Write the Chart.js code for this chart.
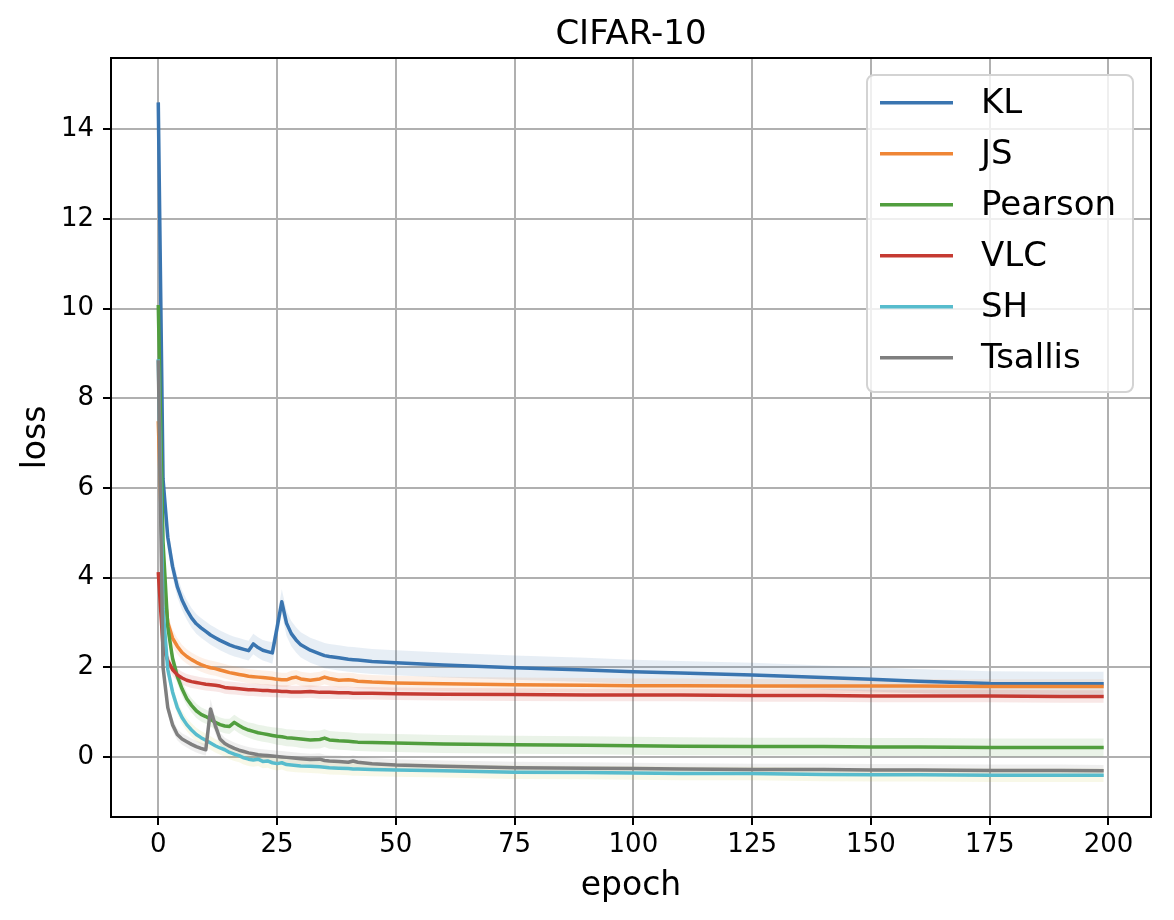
<!DOCTYPE html>
<html>
<head>
<meta charset="utf-8">
<script src="https://cdn.jsdelivr.net/npm/chart.js@4.4.1/dist/chart.umd.min.js"></script>
<style>
html,body{margin:0;padding:0;background:#fff;}
canvas{display:block;}
</style>
</head>
<body>
<canvas id="c" width="1174" height="920" style="width:1174px;height:920px"></canvas>
<script>
const epochs = [0,1,2,3,4,5,6,7,8,9,10,11,12,13,14,15,16,17,18,19,20,21,22,23,24,25,26,27,28,29,30,32,34,35,36,38,40,41,42,45,50,60,75,90,100,110,125,140,150,160,175,190,199];

const seriesNames = ["KL","JS","Pearson","VLC","SH","Tsallis"];

const klLoss = [14.6,6.2,4.9,4.25,3.8,3.5,3.28,3.1,2.97,2.88,2.8,2.72,2.66,2.6,2.55,2.5,2.46,2.43,2.4,2.37,2.52,2.44,2.38,2.35,2.32,2.88,3.46,2.98,2.75,2.61,2.5,2.38,2.3,2.26,2.24,2.21,2.18,2.17,2.16,2.13,2.1,2.05,1.99,1.94,1.9,1.87,1.83,1.77,1.73,1.69,1.64,1.63,1.63];
const jsLoss = [7.49,4.0,3.0,2.65,2.47,2.33,2.24,2.17,2.11,2.06,2.02,1.99,1.97,1.94,1.91,1.88,1.86,1.84,1.82,1.8,1.79,1.78,1.77,1.76,1.75,1.73,1.72,1.72,1.76,1.78,1.74,1.71,1.74,1.78,1.75,1.71,1.72,1.71,1.69,1.67,1.65,1.63,1.61,1.6,1.59,1.59,1.58,1.58,1.58,1.58,1.57,1.57,1.57];
const pearsonLoss = [10.08,4.8,2.9,2.2,1.8,1.52,1.3,1.15,1.03,0.95,0.9,0.84,0.77,0.72,0.69,0.68,0.77,0.7,0.64,0.6,0.57,0.54,0.52,0.5,0.48,0.46,0.45,0.43,0.42,0.41,0.4,0.38,0.39,0.42,0.38,0.36,0.35,0.34,0.33,0.32,0.31,0.29,0.27,0.26,0.25,0.24,0.23,0.23,0.22,0.22,0.21,0.21,0.21];
const vlcLoss = [4.12,2.46,2.15,1.95,1.83,1.76,1.71,1.68,1.66,1.64,1.62,1.61,1.6,1.58,1.55,1.54,1.53,1.52,1.51,1.5,1.5,1.49,1.48,1.48,1.47,1.47,1.46,1.46,1.45,1.45,1.45,1.46,1.44,1.44,1.44,1.43,1.43,1.42,1.42,1.42,1.41,1.4,1.39,1.38,1.38,1.38,1.37,1.37,1.36,1.36,1.36,1.35,1.35];
const shLoss = [8.87,3.3,1.95,1.45,1.1,0.88,0.72,0.6,0.5,0.43,0.37,0.31,0.25,0.2,0.16,0.1,0.06,0.03,-0.02,-0.05,-0.07,-0.05,-0.1,-0.09,-0.13,-0.15,-0.13,-0.17,-0.18,-0.19,-0.2,-0.21,-0.22,-0.23,-0.24,-0.25,-0.26,-0.27,-0.27,-0.28,-0.29,-0.31,-0.34,-0.35,-0.36,-0.37,-0.37,-0.39,-0.4,-0.4,-0.41,-0.41,-0.41];
const tsallisLoss = [8.85,2.0,1.1,0.72,0.5,0.4,0.34,0.28,0.23,0.19,0.16,1.07,0.7,0.4,0.3,0.24,0.19,0.15,0.12,0.09,0.07,0.05,0.04,0.03,0.02,0.01,0.0,-0.01,-0.02,-0.03,-0.04,-0.06,-0.05,-0.08,-0.09,-0.1,-0.12,-0.09,-0.12,-0.15,-0.18,-0.21,-0.24,-0.25,-0.26,-0.27,-0.28,-0.28,-0.29,-0.29,-0.3,-0.3,-0.31];

const klStd = [0.3,0.3,0.28,0.25,0.23,0.22,0.22,0.22,0.22,0.22,0.22,0.22,0.22,0.22,0.22,0.22,0.22,0.22,0.22,0.22,0.23,0.23,0.23,0.23,0.24,0.26,0.28,0.28,0.28,0.28,0.28,0.28,0.28,0.28,0.28,0.28,0.28,0.28,0.28,0.28,0.28,0.28,0.27,0.27,0.27,0.27,0.27,0.27,0.27,0.27,0.27,0.27,0.27];
const jsStd = [0.2,0.2,0.2,0.19,0.18,0.17,0.16,0.16,0.16,0.16,0.16,0.16,0.16,0.16,0.16,0.16,0.16,0.16,0.16,0.16,0.16,0.16,0.16,0.16,0.16,0.16,0.16,0.16,0.16,0.16,0.16,0.16,0.16,0.16,0.16,0.16,0.16,0.16,0.16,0.16,0.16,0.16,0.16,0.16,0.16,0.16,0.16,0.16,0.16,0.16,0.16,0.16,0.16];
const pearsonStd = [0.2,0.2,0.2,0.18,0.17,0.16,0.16,0.16,0.16,0.16,0.16,0.16,0.16,0.16,0.16,0.17,0.17,0.17,0.17,0.17,0.18,0.18,0.18,0.18,0.18,0.19,0.19,0.19,0.19,0.19,0.2,0.2,0.2,0.2,0.2,0.2,0.2,0.2,0.2,0.2,0.2,0.2,0.2,0.2,0.2,0.2,0.2,0.2,0.2,0.2,0.2,0.2,0.2];
const vlcStd = [0.15,0.15,0.15,0.14,0.14,0.14,0.14,0.14,0.14,0.14,0.14,0.14,0.14,0.14,0.14,0.14,0.14,0.14,0.14,0.14,0.14,0.14,0.14,0.14,0.14,0.14,0.14,0.14,0.14,0.14,0.14,0.14,0.14,0.14,0.14,0.14,0.14,0.14,0.14,0.14,0.14,0.14,0.14,0.14,0.14,0.14,0.14,0.14,0.14,0.14,0.14,0.14,0.14];
const shStd = [0.2,0.2,0.18,0.16,0.15,0.15,0.15,0.15,0.15,0.15,0.15,0.15,0.15,0.15,0.15,0.15,0.15,0.15,0.15,0.15,0.15,0.15,0.15,0.15,0.15,0.15,0.15,0.15,0.15,0.15,0.15,0.15,0.15,0.15,0.15,0.15,0.15,0.15,0.15,0.15,0.15,0.15,0.15,0.15,0.15,0.15,0.15,0.15,0.15,0.15,0.15,0.15,0.15];
const tsallisStd = [0.2,0.2,0.16,0.14,0.13,0.13,0.13,0.13,0.13,0.13,0.13,0.22,0.18,0.14,0.13,0.13,0.13,0.13,0.13,0.13,0.13,0.13,0.13,0.13,0.13,0.13,0.13,0.13,0.13,0.13,0.13,0.13,0.13,0.13,0.13,0.13,0.13,0.13,0.13,0.13,0.13,0.13,0.13,0.13,0.13,0.13,0.13,0.13,0.13,0.13,0.13,0.13,0.13];

const xTicks = [0,25,50,75,100,125,150,175,200];
const yTicks = [0,2,4,6,8,10,12,14];

const lineColors = ["#3a75b0","#ef8636","#519e3e","#c53a32","#57bccd","#7f7f7f"];
const bandColors = ["rgba(58,117,176,0.12)","rgba(239,134,54,0.12)","rgba(81,158,62,0.12)","rgba(197,58,50,0.12)","rgba(188,189,34,0.10)","rgba(127,127,127,0.12)"];

const means = [klLoss, jsLoss, pearsonLoss, vlcLoss, shLoss, tsallisLoss];
const stds = [klStd, jsStd, pearsonStd, vlcStd, shStd, tsallisStd];

const FONT = "'DejaVu Sans', 'Liberation Sans', sans-serif";

const datasets = [];
means.forEach((m, i) => {
  const s = stds[i];
  const lowIdx = datasets.length;
  datasets.push({
    label: seriesNames[i] + "_lo",
    data: epochs.map((e, k) => ({x: e, y: m[k] - s[k]})),
    borderWidth: 0, borderColor: "rgba(0,0,0,0)", pointRadius: 0, fill: false,
    order: 20 + (5 - i)
  });
  datasets.push({
    label: seriesNames[i] + "_hi",
    data: epochs.map((e, k) => ({x: e, y: m[k] + s[k]})),
    borderWidth: 0, borderColor: "rgba(0,0,0,0)", pointRadius: 0,
    fill: {target: lowIdx}, backgroundColor: bandColors[i],
    order: 20 + (5 - i)
  });
});
means.forEach((m, i) => {
  datasets.push({
    label: seriesNames[i],
    data: epochs.map((e, k) => ({x: e, y: m[k]})),
    borderColor: lineColors[i], borderWidth: 3.5, pointRadius: 0, fill: false,
    tension: 0, order: 5 - i, borderJoinStyle: "round", borderCapStyle: "butt"
  });
});

const decorPlugin = {
  id: "decor",
  afterDatasetsDraw(chart) {
    const {ctx, chartArea: a} = chart;
    ctx.save();
    ctx.strokeStyle = "#000";
    ctx.lineWidth = 2;
    ctx.strokeRect(a.left, a.top, a.right - a.left, a.bottom - a.top);
    ctx.restore();
  },
  afterDraw(chart) {
    const {ctx, chartArea: a} = chart;
    ctx.save();
    ctx.fillStyle = "#000";
    ctx.font = "34px " + FONT;
    ctx.textAlign = "center";
    ctx.textBaseline = "alphabetic";
    ctx.fillText("CIFAR-10", (a.left + a.right) / 2, 44);
    ctx.font = "33px " + FONT;
    ctx.fillText("epoch", (a.left + a.right) / 2, 895);
    ctx.save();
    ctx.translate(45, (a.top + a.bottom) / 2);
    ctx.rotate(-Math.PI / 2);
    ctx.fillText("loss", 0, 0);
    ctx.restore();
    const lx = 867, ly = 75, lw = 266, lh = 317, r = 7;
    ctx.beginPath();
    ctx.moveTo(lx + r, ly);
    ctx.lineTo(lx + lw - r, ly);
    ctx.arcTo(lx + lw, ly, lx + lw, ly + r, r);
    ctx.lineTo(lx + lw, ly + lh - r);
    ctx.arcTo(lx + lw, ly + lh, lx + lw - r, ly + lh, r);
    ctx.lineTo(lx + r, ly + lh);
    ctx.arcTo(lx, ly + lh, lx, ly + lh - r, r);
    ctx.lineTo(lx, ly + r);
    ctx.arcTo(lx, ly, lx + r, ly, r);
    ctx.closePath();
    ctx.fillStyle = "rgba(255,255,255,0.8)";
    ctx.fill();
    ctx.strokeStyle = "#d3d3d3";
    ctx.lineWidth = 2;
    ctx.stroke();
    ctx.font = "34px " + FONT;
    ctx.textAlign = "left";
    ctx.textBaseline = "middle";
    seriesNames.forEach((name, k) => {
      const y = 102.7 + k * 51;
      ctx.beginPath();
      ctx.moveTo(880, y);
      ctx.lineTo(953, y);
      ctx.strokeStyle = lineColors[k];
      ctx.lineWidth = 3.5;
      ctx.stroke();
      ctx.fillStyle = "#000";
      ctx.fillText(name, 981, y + 1);
    });
    ctx.restore();
  }
};

new Chart(document.getElementById("c"), {
  type: "line",
  data: {datasets},
  options: {
    responsive: false,
    animation: false,
    devicePixelRatio: 1,
    layout: {padding: {left: 0, top: 58, right: 23, bottom: 0}},
    plugins: {legend: {display: false}, tooltip: {enabled: false}, title: {display: false}},
    scales: {
      x: {
        type: "linear",
        min: -9.95, max: 208.95,
        afterBuildTicks: s => { s.ticks = xTicks.map(v => ({value: v})); },
        afterFit: s => { s.height = 103; },
        ticks: {font: {family: FONT, size: 26}, color: "#000", padding: 5, maxRotation: 0, autoSkip: false},
        grid: {color: "#b0b0b0", lineWidth: 2, tickColor: "#000", tickLength: 8, tickWidth: 2},
        border: {display: true, color: "#000", width: 2}
      },
      y: {
        type: "linear",
        min: -1.34, max: 15.59,
        afterBuildTicks: s => { s.ticks = yTicks.map(v => ({value: v})); },
        afterFit: s => { s.width = 111; },
        ticks: {font: {family: FONT, size: 26}, color: "#000", padding: 9, autoSkip: false},
        grid: {color: "#b0b0b0", lineWidth: 2, tickColor: "#000", tickLength: 8, tickWidth: 2},
        border: {display: true, color: "#000", width: 2}
      }
    }
  },
  plugins: [decorPlugin]
});
</script>
</body>
</html>
